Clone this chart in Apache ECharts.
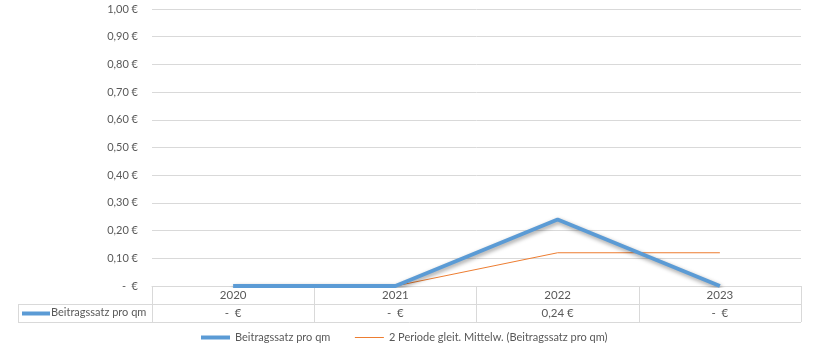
<!DOCTYPE html>
<html><head><meta charset="utf-8">
<script src="https://cdn.jsdelivr.net/npm/echarts@6/dist/echarts.min.js"></script>
<style>html,body{margin:0;padding:0;background:#fff}#c{width:813px;height:354px}</style>
</head><body><div id="c"></div>
<script>
const categories = ['2020', '2021', '2022', '2023'];
const beitrag = [0, 0, 0.24, 0];
const movingAvg = [null, 0, 0.12, 0.12];
const seriesNames = ['Beitragssatz pro qm', '2 Periode gleit. Mittelw. (Beitragssatz pro qm)'];
const yTicks = { min: 0, max: 1, interval: 0.1 };

const FONT = 'Lato';
const TXT = '#595959';
const GRID = '#d9d9d9';
function euro(v) { return v === 0 ? '-  €' : v.toFixed(2).replace('.', ',') + ' €'; }

const chart = echarts.init(document.getElementById('c'));
chart.setOption({
  animation: false,
  textStyle: { fontFamily: FONT },
  grid: { left: 152, right: 12, top: 9, bottom: 68, containLabel: false },
  xAxis: [
    { type: 'category', data: categories, boundaryGap: true,
      axisLine: { lineStyle: { color: GRID } },
      axisTick: { show: true, length: 18, interval: 0, lineStyle: { color: GRID } },
      axisLabel: { color: TXT, fontSize: 11.5, margin: 3, fontFamily: FONT } },
    { type: 'category', data: beitrag.map(euro), position: 'bottom', offset: 18, boundaryGap: true,
      axisLine: { lineStyle: { color: GRID } },
      axisTick: { show: true, length: 18, interval: 0, lineStyle: { color: GRID } },
      axisLabel: { color: TXT, fontSize: 11.5, margin: 3, fontFamily: FONT } }
  ],
  yAxis: { type: 'value', min: yTicks.min, max: yTicks.max, interval: yTicks.interval,
    axisLine: { show: false }, axisTick: { show: false },
    splitLine: { lineStyle: { color: GRID } },
    axisLabel: { color: TXT, fontSize: 11, margin: 14, fontFamily: FONT, formatter: euro } },
  legend: { bottom: 6, left: 194, itemGap: 24, itemWidth: 29, itemHeight: 8,
    itemStyle: { opacity: 0 },
    textStyle: { color: TXT, fontSize: 11, fontFamily: FONT },
    data: [
      { name: seriesNames[0], lineStyle: { width: 4, color: '#5B9BD5' } },
      { name: seriesNames[1], lineStyle: { width: 1, color: '#ED7D31' } }
    ] },
  series: [
    { name: seriesNames[0], type: 'line', data: beitrag, xAxisIndex: 0, symbol: 'none',
      lineStyle: { color: '#5B9BD5', width: 4, shadowColor: 'rgba(0,0,0,0.4)', shadowBlur: 4, shadowOffsetX: 1, shadowOffsetY: 2 },
      itemStyle: { color: '#5B9BD5' }, z: 3 },
    { name: seriesNames[1], type: 'line', data: movingAvg, xAxisIndex: 0, symbol: 'none',
      lineStyle: { color: '#ED7D31', width: 1 }, itemStyle: { color: '#ED7D31' }, z: 2 }
  ],
  graphic: [
    { type: 'line', shape: { x1: 18, y1: 304.5, x2: 152, y2: 304.5 }, style: { stroke: GRID, lineWidth: 1 } },
    { type: 'line', shape: { x1: 18, y1: 322.5, x2: 801, y2: 322.5 }, style: { stroke: GRID, lineWidth: 1 } },
    { type: 'line', shape: { x1: 18.5, y1: 304, x2: 18.5, y2: 323 }, style: { stroke: GRID, lineWidth: 1 } },
    { type: 'line', shape: { x1: 22, y1: 313.5, x2: 50, y2: 313.5 }, style: { stroke: '#5B9BD5', lineWidth: 4 } },
    { type: 'text', left: 51, top: 307, style: { text: seriesNames[0], fill: TXT, fontSize: 11, fontFamily: FONT } }
  ]
});
</script></body></html>
